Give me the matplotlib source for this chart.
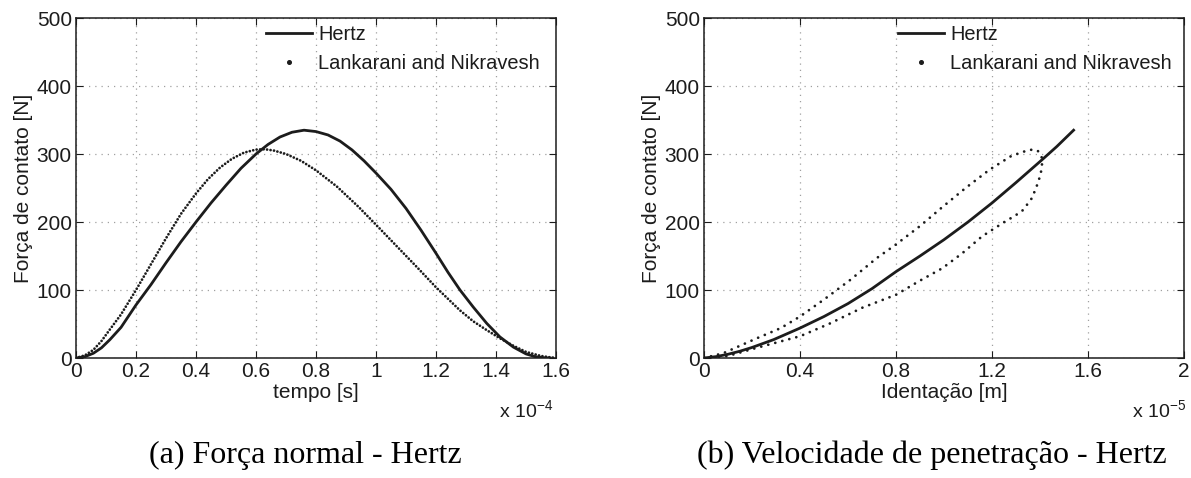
import matplotlib
matplotlib.use("Agg")
import matplotlib.pyplot as plt
from matplotlib.lines import Line2D

# ---------------- data ----------------
# (a) contact force vs time (time in units of 1e-4 s)
t_hertz = [0, 0.03, 0.058, 0.085, 0.113, 0.15, 0.2, 0.25, 0.3, 0.35, 0.4, 0.45,
           0.5, 0.55, 0.6, 0.64, 0.68, 0.72, 0.76, 0.8, 0.84, 0.88, 0.92, 0.96,
           1.0, 1.05, 1.1, 1.15, 1.2, 1.24, 1.28, 1.324, 1.369, 1.413, 1.458,
           1.5, 1.53, 1.56, 1.58]
f_hertz_t = [0, 2, 7, 15, 27, 45, 78, 108, 140, 171, 200, 228,
             254, 279, 300, 314, 325, 332, 335, 333, 328, 319, 306, 290,
             272, 248, 220, 188, 154, 126, 100, 75, 51, 31, 16,
             6, 2, 0.3, 0]

t_lank = [0, 0.03, 0.058, 0.085, 0.113, 0.15, 0.2, 0.25, 0.3, 0.35, 0.4, 0.44,
          0.48, 0.52, 0.56, 0.6, 0.63, 0.66, 0.7, 0.75, 0.8, 0.87, 0.94, 1.0,
          1.07, 1.14, 1.2, 1.28, 1.324, 1.369, 1.413, 1.458, 1.5, 1.55, 1.58, 1.6]
f_lank_t = [0, 4, 12, 25, 42, 64, 100, 138, 176, 212, 242, 263,
            280, 293, 302, 306.5, 307, 305, 300, 290, 276, 252, 223, 196,
            164, 132, 104, 70, 54, 41, 29, 18, 9, 3, 1, 0.3]

# (b) contact force vs indentation (indentation in units of 1e-5 m)
d_hertz = [0, 0.05, 0.1, 0.15, 0.2, 0.29, 0.4, 0.5, 0.6, 0.7, 0.8, 0.9, 1.0,
           1.1, 1.2, 1.3, 1.41, 1.47, 1.54]
f_hertz_d = [0, 2, 5.5, 10, 15.5, 27, 44, 61, 80, 102, 127, 150, 174,
             200, 228, 258, 292, 311, 335]

d_lank = [0, 0.08, 0.22, 0.32, 0.4, 0.5, 0.61, 0.72, 0.8, 0.9, 0.99, 1.09, 1.19,
          1.28, 1.32, 1.35, 1.37, 1.39, 1.405, 1.41, 1.405, 1.394, 1.38, 1.366,
          1.345, 1.325, 1.29, 1.256, 1.159, 1.076, 0.993, 0.896, 0.8, 0.66, 0.52,
          0.4, 0.22, 0.1, 0]
f_lank_d = [0, 7, 29, 44, 61, 86, 115, 147, 167, 194, 221, 250, 277,
            297, 302, 305.5, 306.5, 305, 298, 290, 275, 260, 247, 235,
            225, 216, 208, 201, 179, 154, 132, 113, 93, 74, 50,
            32, 15, 3, 0]

xticks_a = [0, 0.2, 0.4, 0.6, 0.8, 1.0, 1.2, 1.4, 1.6]
xticklabels_a = ["0", "0.2", "0.4", "0.6", "0.8", "1", "1.2", "1.4", "1.6"]
xticks_b = [0, 0.4, 0.8, 1.2, 1.6, 2.0]
xticklabels_b = ["0", "0.4", "0.8", "1.2", "1.6", "2"]
yticks = [0, 100, 200, 300, 400, 500]

label_hertz = "Hertz"
label_lank = "Lankarani and Nikravesh"
ylabel = "Força de contato [N]"
xlabel_a = "tempo [s]"
xlabel_b = "Identação [m]"
exp_a = "x 10$^{-4}$"
exp_b = "x 10$^{-5}$"
caption_a = "(a) Força normal - Hertz"
caption_b = "(b) Velocidade de penetração - Hertz"

# ---------------- style ----------------
plt.rcParams["font.family"] = ["Liberation Sans", "DejaVu Sans"]
plt.rcParams["mathtext.default"] = "regular"
FS = 15
INK = "#1c1c1c"

fig = plt.figure(figsize=(11.91, 4.78), dpi=100)
W, H = 1191, 478
ax_a = fig.add_axes([76 / W, (H - 358) / H, 480 / W, 340 / H])
ax_b = fig.add_axes([704 / W, (H - 358) / H, 480 / W, 340 / H])


def style(ax, xt, xtl, xmax):
    ax.set_xlim(0, xmax)
    ax.set_ylim(0, 500)
    ax.set_xticks(xt)
    ax.set_xticklabels(xtl)
    ax.set_yticks(yticks)
    ax.tick_params(direction="in", top=True, right=True, length=5, width=0.8,
                   labelsize=FS, colors=INK, pad=3)
    ax.grid(True, color="#a0a0a0", linestyle=(0, (1, 4)), linewidth=0.9)
    for s in ax.spines.values():
        s.set_linewidth(1.1)
        s.set_color(INK)
    ax.set_ylabel(ylabel, fontsize=FS, color=INK, labelpad=3)


style(ax_a, xticks_a, xticklabels_a, 1.6)
style(ax_b, xticks_b, xticklabels_b, 2.0)

ax_a.plot(t_hertz, f_hertz_t, color=INK, lw=2.0)
ax_a.plot(t_lank, f_lank_t, color=INK, lw=2.0, linestyle=(0, (0.01, 1.25)),
          dash_capstyle="round")

ax_b.plot(d_hertz, f_hertz_d, color=INK, lw=2.0)
ax_b.plot(d_lank, f_lank_d, color=INK, lw=2.0, linestyle=(0, (0.01, 2.6)),
          dash_capstyle="round")

handles = [Line2D([], [], color=INK, lw=2.0, label=label_hertz),
           Line2D([], [], color=INK, ls="none", marker="o", ms=2.6,
                  label=label_lank)]

for ax, x0 in ((ax_a, 0.396), (ax_b, 0.404)):
    leg = ax.legend(handles=handles, loc="upper left", bbox_to_anchor=(x0, 0.98),
                    frameon=False, fontsize=14.4, handlelength=2.3,
                    handletextpad=0.3, labelspacing=0.5, borderpad=0,
                    borderaxespad=0)
    for txt in leg.get_texts():
        txt.set_color(INK)

ax_a.set_xlabel(xlabel_a, fontsize=FS, color=INK, labelpad=1)
ax_b.set_xlabel(xlabel_b, fontsize=FS, color=INK, labelpad=1)

fig.text(553 / W, 1 - 410 / H, exp_a, fontsize=FS - 1, color=INK,
         ha="right", va="center")
fig.text(1186 / W, 1 - 410 / H, exp_b, fontsize=FS - 1, color=INK,
         ha="right", va="center")

fig.text(305 / W, 1 - 455 / H, caption_a, fontsize=23, color="black",
         family=["Liberation Serif", "DejaVu Serif"], ha="center", va="center")
fig.text(932 / W, 1 - 455 / H, caption_b, fontsize=23, color="black",
         family=["Liberation Serif", "DejaVu Serif"], ha="center", va="center")

fig.savefig("out.png", dpi=100)
